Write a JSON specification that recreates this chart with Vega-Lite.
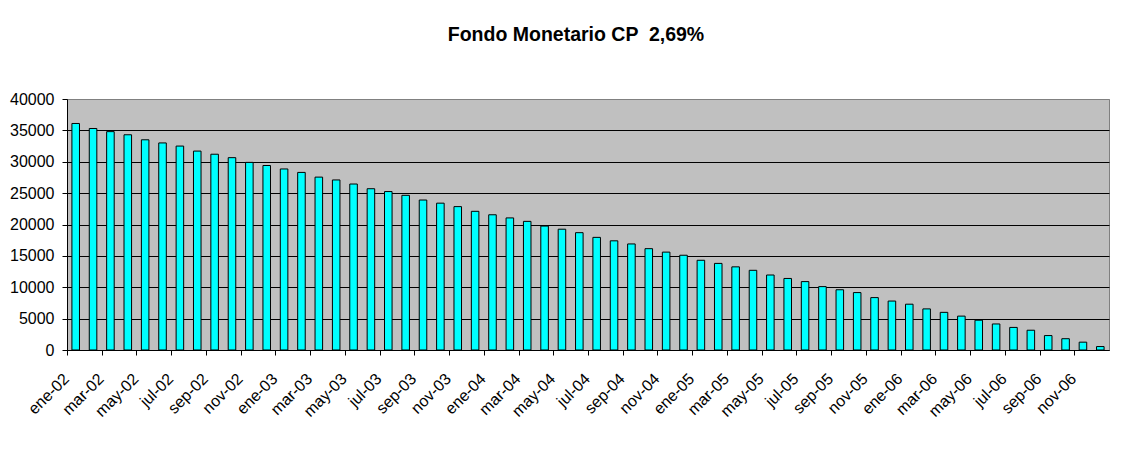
{
  "$schema": "https://vega.github.io/schema/vega-lite/v6.json",
  "autosize": {"type": "none"},
  "padding": {"left": 67, "top": 99, "right": 17, "bottom": 99},
  "width": 1042,
  "height": 251,
  "background": "white",
  "title": {
    "text": "Fondo Monetario CP \u00a02,69%",
    "font": "Liberation Sans",
    "fontSize": 19.5,
    "fontWeight": "bold",
    "color": "black",
    "anchor": "middle",
    "frame": "group",
    "baseline": "alphabetic",
    "dx": -12,
    "offset": 31
  },
  "config": {
    "view": {"fill": "#C0C0C0", "stroke": "#808080", "strokeWidth": 1},
    "axis": {"labelFont": "Liberation Sans", "labelColor": "black", "labelFontSize": 16}
  },
  "data": {
    "values": [
      {"mes": "ene-02", "valor": 36100},
      {"mes": "feb-02", "valor": 35300},
      {"mes": "mar-02", "valor": 34800},
      {"mes": "abr-02", "valor": 34300},
      {"mes": "may-02", "valor": 33500},
      {"mes": "jun-02", "valor": 33000},
      {"mes": "jul-02", "valor": 32500},
      {"mes": "ago-02", "valor": 31700},
      {"mes": "sep-02", "valor": 31200},
      {"mes": "oct-02", "valor": 30650},
      {"mes": "nov-02", "valor": 29900},
      {"mes": "dic-02", "valor": 29400},
      {"mes": "ene-03", "valor": 28850},
      {"mes": "feb-03", "valor": 28300},
      {"mes": "mar-03", "valor": 27550},
      {"mes": "abr-03", "valor": 27100},
      {"mes": "may-03", "valor": 26450},
      {"mes": "jun-03", "valor": 25700},
      {"mes": "jul-03", "valor": 25250},
      {"mes": "ago-03", "valor": 24650},
      {"mes": "sep-03", "valor": 23900},
      {"mes": "oct-03", "valor": 23400},
      {"mes": "nov-03", "valor": 22850},
      {"mes": "dic-03", "valor": 22100},
      {"mes": "ene-04", "valor": 21550},
      {"mes": "feb-04", "valor": 21050},
      {"mes": "mar-04", "valor": 20500},
      {"mes": "abr-04", "valor": 19750},
      {"mes": "may-04", "valor": 19250},
      {"mes": "jun-04", "valor": 18700},
      {"mes": "jul-04", "valor": 17950},
      {"mes": "ago-04", "valor": 17400},
      {"mes": "sep-04", "valor": 16900},
      {"mes": "oct-04", "valor": 16150},
      {"mes": "nov-04", "valor": 15600},
      {"mes": "dic-04", "valor": 15100},
      {"mes": "ene-05", "valor": 14300},
      {"mes": "feb-05", "valor": 13800},
      {"mes": "mar-05", "valor": 13250},
      {"mes": "abr-05", "valor": 12700},
      {"mes": "may-05", "valor": 11950},
      {"mes": "jun-05", "valor": 11400},
      {"mes": "jul-05", "valor": 10900},
      {"mes": "ago-05", "valor": 10100},
      {"mes": "sep-05", "valor": 9600},
      {"mes": "oct-05", "valor": 9150},
      {"mes": "nov-05", "valor": 8350},
      {"mes": "dic-05", "valor": 7800},
      {"mes": "ene-06", "valor": 7300},
      {"mes": "feb-06", "valor": 6550},
      {"mes": "mar-06", "valor": 6000},
      {"mes": "abr-06", "valor": 5400},
      {"mes": "may-06", "valor": 4750},
      {"mes": "jun-06", "valor": 4150},
      {"mes": "jul-06", "valor": 3600},
      {"mes": "ago-06", "valor": 3150},
      {"mes": "sep-06", "valor": 2300},
      {"mes": "oct-06", "valor": 1800},
      {"mes": "nov-06", "valor": 1250},
      {"mes": "dic-06", "valor": 550}
    ]
  },
  "mark": {"type": "bar", "fill": "#00FFFF", "stroke": "black", "strokeWidth": 1},
  "encoding": {
    "x": {
      "field": "mes",
      "type": "nominal",
      "sort": null,
      "scale": {"paddingInner": 0.565, "paddingOuter": 0.283},
      "axis": {
        "title": null,
        "values": ["ene-02","mar-02","may-02","jul-02","sep-02","nov-02","ene-03","mar-03","may-03","jul-03","sep-03","nov-03","ene-04","mar-04","may-04","jul-04","sep-04","nov-04","ene-05","mar-05","may-05","jul-05","sep-05","nov-05","ene-06","mar-06","may-06","jul-06","sep-06","nov-06"],
        "labelAngle": -45,
        "labelAlign": "right",
        "labelBaseline": "middle",
        "labelPadding": 21,
        "tickOffset": -8.68,
        "labelOffset": -1,
        "tickSize": 5,
        "tickColor": "black",
        "domainColor": "black",
        "domainWidth": 1,
        "grid": false
      }
    },
    "y": {
      "field": "valor",
      "type": "quantitative",
      "scale": {"domain": [0, 40000], "nice": false},
      "axis": {
        "title": null,
        "values": [0, 5000, 10000, 15000, 20000, 25000, 30000, 35000, 40000],
        "format": "d",
        "tickSize": 5,
        "tickColor": "black",
        "domainColor": "black",
        "labelPadding": 8,
        "grid": true,
        "gridColor": {"condition": {"test": "datum.value == 40000", "value": "#808080"}, "value": "black"},
        "gridWidth": 1,
        "gridOpacity": 1
      }
    }
  }
}
